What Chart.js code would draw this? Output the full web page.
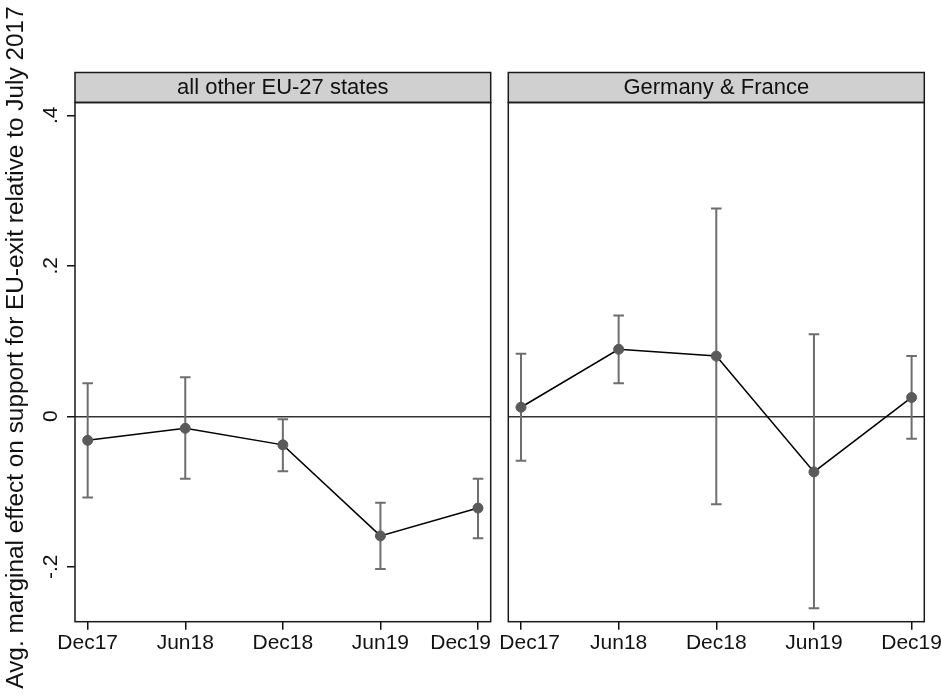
<!DOCTYPE html>
<html lang="en">
<head>
    <meta charset="UTF-8">
    <title>Avg. marginal effect on support for EU-exit</title>
    <script src="https://cdn.jsdelivr.net/npm/chart.js"></script>
    <style>
        body {
            margin: 0;
            background-color: #fff;
        }
        #wrap {
            position: relative;
            width: 941px;
            height: 697px;
        }
        canvas {
            position: absolute;
            top: 0;
        }
        #leftPanel { left: 0; }
        #rightPanel { left: 483px; }
    </style>
</head>
<body>
    <div id="wrap">
        <canvas id="leftPanel" width="516" height="697"></canvas>
        <canvas id="rightPanel" width="458" height="697"></canvas>
    </div>

    <script>
        const periods = ['Dec17', 'Jun18', 'Dec18', 'Jun19', 'Dec19'];
        const yTicks = [-0.2, 0, 0.2, 0.4];
        const yTickLabels = ['-.2', '0', '.2', '.4'];
        const yTitle = 'Avg. marginal effect on support for EU-exit relative to July 2017';

        // all other EU-27 states
        const otherEst = [-0.032, -0.016, -0.038, -0.159, -0.122];
        const otherLo = [-0.108, -0.083, -0.073, -0.203, -0.162];
        const otherHi = [0.044, 0.052, -0.004, -0.115, -0.083];

        // Germany & France
        const gfEst = [0.012, 0.089, 0.080, -0.074, 0.025];
        const gfLo = [-0.059, 0.044, -0.117, -0.255, -0.030];
        const gfHi = [0.083, 0.134, 0.276, 0.109, 0.080];

        const FONT = '"Liberation Sans", Arial, Helvetica, sans-serif';

        // header strip + frame around the plot region
        const panelPlugin = {
            id: 'panel',
            afterDraw(chart, args, opts) {
                const { ctx, chartArea: a } = chart;
                ctx.save();
                ctx.fillStyle = '#d0d0d0';
                ctx.fillRect(a.left, a.top - 30, a.right - a.left, 30);
                ctx.strokeStyle = '#1a1a1a';
                ctx.lineWidth = 1.5;
                ctx.strokeRect(a.left, a.top - 30, a.right - a.left, 30);
                ctx.fillStyle = '#111';
                ctx.font = '22px ' + FONT;
                ctx.textAlign = 'center';
                ctx.textBaseline = 'middle';
                ctx.fillText(opts.title, (a.left + a.right) / 2, a.top - 15);
                ctx.strokeRect(a.left, a.top, a.right - a.left, a.bottom - a.top);

                // x labels, the ones next to the gap between panels are nudged apart
                const x = chart.scales.x;
                ctx.font = '21px ' + FONT;
                periods.forEach((p, i) => {
                    const dx = opts.labelShift[i] || 0;
                    ctx.fillText(p, x.getPixelForValue(i) + dx, a.bottom + 22);
                });
                ctx.restore();
            }
        };

        // rotated y tick labels and axis title (left panel only)
        const yLabelPlugin = {
            id: 'yLabels',
            afterDraw(chart, args, opts) {
                if (!opts.show) return;
                const { ctx, chartArea: a } = chart;
                const y = chart.scales.y;
                ctx.save();
                ctx.fillStyle = '#111';
                ctx.textAlign = 'center';
                ctx.textBaseline = 'middle';
                ctx.font = '21px ' + FONT;
                yTicks.forEach((v, i) => {
                    ctx.save();
                    ctx.translate(a.left - 24, y.getPixelForValue(v));
                    ctx.rotate(-Math.PI / 2);
                    ctx.fillText(yTickLabels[i], 0, 0);
                    ctx.restore();
                });
                ctx.font = '24.4px ' + FONT;
                ctx.translate(a.left - 59, chart.height / 2 - 1);
                ctx.rotate(-Math.PI / 2);
                ctx.fillText(yTitle, 0, 0);
                ctx.restore();
            }
        };

        function errorBarPoints(lo, hi) {
            const pts = [];
            lo.forEach((v, i) => {
                pts.push({ x: i, y: v }, { x: i, y: hi[i] }, { x: i, y: null });
            });
            return pts;
        }

        function makePanel(id, title, est, lo, hi, showY, pad, labelShift) {
            const ctx = document.getElementById(id).getContext('2d');
            return new Chart(ctx, {
                type: 'scatter',
                data: {
                    datasets: [
                        {
                            data: est.map((v, i) => ({ x: i, y: v })),
                            showLine: true,
                            borderColor: '#000',
                            borderWidth: 1.5,
                            pointRadius: 5,
                            pointBorderWidth: 1,
                            pointBackgroundColor: '#5a5a5a',
                            pointBorderColor: '#5a5a5a'
                        },
                        {
                            data: errorBarPoints(lo, hi),
                            showLine: true,
                            spanGaps: false,
                            borderColor: '#6e6e6e',
                            borderWidth: 2,
                            pointStyle: 'line',
                            pointRadius: 5.3,
                            pointBorderWidth: 2,
                            pointBorderColor: '#6e6e6e'
                        }
                    ]
                },
                options: {
                    responsive: false,
                    animation: false,
                    layout: { padding: pad },
                    plugins: {
                        legend: { display: false },
                        tooltip: { enabled: false },
                        panel: { title: title, labelShift: labelShift },
                        yLabels: { show: showY }
                    },
                    scales: {
                        x: {
                            type: 'linear',
                            min: -0.13,
                            max: 4.13,
                            afterBuildTicks: s => { s.ticks = periods.map((_, i) => ({ value: i })); },
                            afterFit: s => { s.height = 75.3; s.paddingLeft = 0; s.paddingRight = 0; },
                            ticks: { display: false },
                            grid: {
                                drawOnChartArea: false,
                                tickLength: 8,
                                color: '#111',
                                lineWidth: 1.5
                            },
                            border: { display: false }
                        },
                        y: {
                            min: -0.273,
                            max: 0.417,
                            afterBuildTicks: s => { s.ticks = yTicks.map(v => ({ value: v })); },
                            afterFit: s => { s.width = showY ? 75 : 0; },
                            ticks: { display: false },
                            grid: {
                                color: c => (c.tick && c.tick.value === 0) ? '#333' : 'rgba(0,0,0,0)',
                                lineWidth: 1.5,
                                drawTicks: showY,
                                tickLength: 8,
                                tickColor: '#111'
                            },
                            border: { display: false }
                        }
                    }
                },
                plugins: [panelPlugin, yLabelPlugin]
            });
        }

        makePanel('leftPanel', 'all other EU-27 states', otherEst, otherLo, otherHi, true,
            { left: 0, top: 102.5, right: 25.3, bottom: 0 }, [0, 0, 0, 0, -17.4]);
        makePanel('rightPanel', 'Germany & France', gfEst, gfLo, gfHi, false,
            { left: 25.3, top: 102.5, right: 16.7, bottom: 0 }, [8.7, 0, 0, 0, 0]);
    </script>
</body>
</html>
